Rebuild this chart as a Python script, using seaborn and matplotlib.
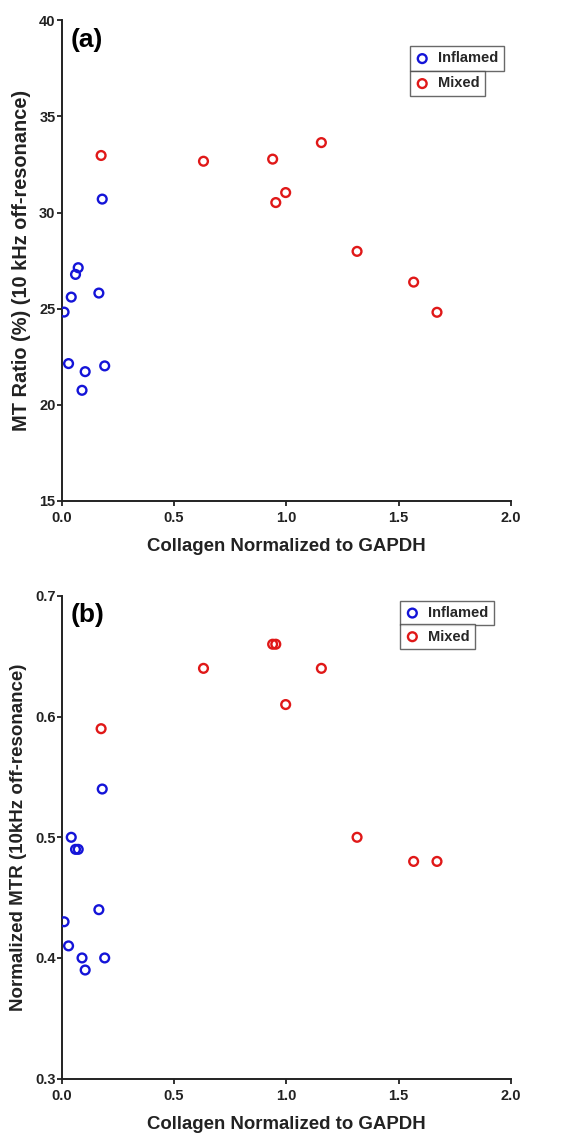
import matplotlib
matplotlib.use("Agg")
import matplotlib.pyplot as plt
import seaborn as sns
import pandas as pd

sns.set_theme(style="ticks")
plt.rcParams['font.family'] = ['Liberation Sans', 'DejaVu Sans']
plt.rcParams['font.weight'] = 'bold'

# --- data ---
inflamed_x = [0.010, 0.030, 0.042, 0.061, 0.073, 0.090, 0.104, 0.165, 0.180, 0.191]
inflamed_mt = [24.82, 22.14, 25.60, 26.78, 27.13, 20.75, 21.72, 25.81, 30.70, 22.02]
inflamed_mtr = [0.43, 0.41, 0.50, 0.49, 0.49, 0.40, 0.39, 0.44, 0.54, 0.40]

mixed_x = [0.175, 0.631, 0.939, 0.953, 0.997, 1.156, 1.315, 1.567, 1.671]
mixed_mt = [32.97, 32.67, 32.78, 30.52, 31.04, 33.64, 27.98, 26.38, 24.81]
mixed_mtr = [0.59, 0.64, 0.66, 0.66, 0.61, 0.64, 0.50, 0.48, 0.48]

x_ticks = [0.0, 0.5, 1.0, 1.5, 2.0]
mt_ticks = [15, 20, 25, 30, 35, 40]
mtr_ticks = [0.3, 0.4, 0.5, 0.6, 0.7]

BLUE = "#1414d8"
RED = "#e01818"
DARK = "#222222"


def draw_panel(ax, y_in, y_mix, yticks, ylabel, ylabel_size, tag, leg_pos):
    df_in = pd.DataFrame({'x': inflamed_x, 'y': y_in})
    df_mix = pd.DataFrame({'x': mixed_x, 'y': y_mix})
    sns.scatterplot(data=df_in, x='x', y='y', ax=ax, s=40, facecolor='none',
                    edgecolor=BLUE, linewidth=1.7, label='Inflamed', zorder=3)
    sns.scatterplot(data=df_mix, x='x', y='y', ax=ax, s=40, facecolor='none',
                    edgecolor=RED, linewidth=1.7, label='Mixed', zorder=3)

    ax.set_xlim(0, 2.0)
    ax.set_ylim(yticks[0], yticks[-1])
    ax.set_xticks(x_ticks)
    ax.set_xticklabels([f"{v:.1f}" for v in x_ticks])
    ax.set_yticks(yticks)
    ax.set_yticklabels([f"{v:g}" for v in yticks])
    ax.tick_params(axis='both', labelsize=10.5, length=3.5, width=1.3,
                   color=DARK, labelcolor=DARK)
    ax.tick_params(axis='x', pad=4)
    ax.tick_params(axis='y', pad=1)
    for lab in ax.get_xticklabels() + ax.get_yticklabels():
        lab.set_fontweight('bold')

    sns.despine(ax=ax)
    for side in ['left', 'bottom']:
        ax.spines[side].set_linewidth(1.4)
        ax.spines[side].set_color(DARK)

    ax.set_xlabel('Collagen Normalized to GAPDH', fontsize=13.4, fontweight='bold',
                  color=DARK, labelpad=9)
    ax.set_ylabel(ylabel, fontsize=ylabel_size, fontweight='bold', color=DARK,
                  labelpad=6)
    ax.text(0.02, 0.985, tag, transform=ax.transAxes, fontsize=19,
            fontweight='bold', va='top', ha='left', color='black')

    # GraphPad-style stacked legend boxes, one per entry
    handles, labels = ax.get_legend_handles_labels()
    if ax.get_legend():
        ax.get_legend().remove()
    legs = []
    for i, (h, l) in enumerate(zip(handles, labels)):
        leg = ax.legend([h], [l], loc='upper left', bbox_to_anchor=leg_pos[i],
                        frameon=True, fancybox=False, borderaxespad=0,
                        borderpad=0.35, handlelength=1.0, handletextpad=0.6,
                        prop={'size': 10.5, 'weight': 'bold'})
        leg.get_frame().set_edgecolor('#444444')
        leg.get_frame().set_linewidth(1.0)
        legs.append(leg)
    for leg in legs[:-1]:
        ax.add_artist(leg)


fig = plt.figure(figsize=(5.62, 11.33), dpi=100)
ax_a = fig.add_axes([0.110, 0.558, 0.799, 0.424])
ax_b = fig.add_axes([0.110, 0.048, 0.799, 0.426])

draw_panel(ax_a, inflamed_mt, mixed_mt, mt_ticks,
           'MT Ratio (%) (10 kHz off-resonance)', 14.4, '(a)',
           [(0.775, 0.946), (0.775, 0.894)])
draw_panel(ax_b, inflamed_mtr, mixed_mtr, mtr_ticks,
           'Normalized MTR (10kHz off-resonance)', 13.5, '(b)',
           [(0.753, 0.990), (0.753, 0.941)])

fig.savefig('out.png', dpi=100)
